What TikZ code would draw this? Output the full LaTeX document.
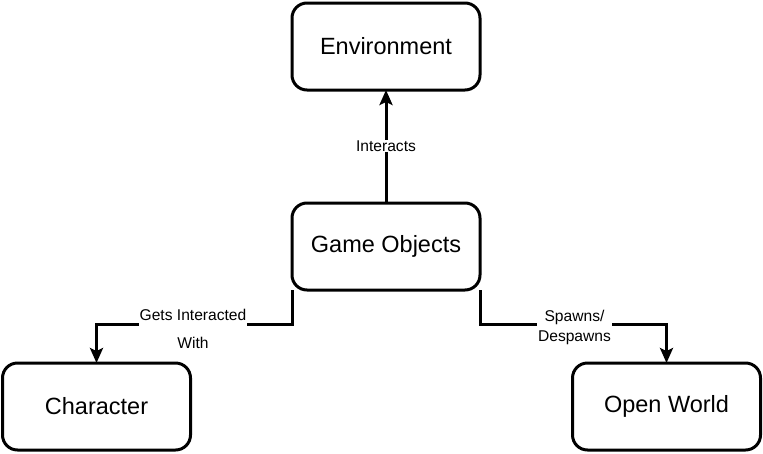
\documentclass[tikz,border=0pt]{standalone}
\usepackage{fontspec}
\setmainfont{Liberation Sans}
\usetikzlibrary{arrows.meta}
\begin{document}
\begin{tikzpicture}[x=1pt,y=-1pt,
  box/.style={draw=black, line width=3pt, rounded corners=15pt, fill=white,
    minimum width=188pt, minimum height=87pt, inner sep=0pt, outer sep=0pt,
    font=\fontsize{23.5}{28}\selectfont},
  conn/.style={draw=black, line width=3pt, -{Stealth[length=15pt,width=13pt,inset=3pt]}},
  lbl/.style={fill=white, inner sep=1pt, align=center, font=\fontsize{15.6}{20}\selectfont}
]
\useasboundingbox (0,0) rectangle (763,453);
\node[box] (env) at (386,46.5) {Environment};
\node[box] (go) at (386,246.5) {Game Objects};
\node[box] (ch) at (96.5,406.5) {Character};
\node[box] (ow) at (666.5,406.5) {Open World};

\draw[conn] (go.north) -- (env.south);
\draw[conn] (go.south west) -- ++(0,34) -| (ch.north);
\draw[conn] (go.south east) -- ++(0,34) -| (ow.north);

\node[lbl] (l1) at (386,146) {Interacts};
\node[lbl, font=\fontsize{15.6}{28}\selectfont] (l2) at (193,329) {Gets Interacted\\With};
\node[lbl] (l3) at (574.5,327) {Spawns/\\Despawns};
\end{tikzpicture}
\end{document}
